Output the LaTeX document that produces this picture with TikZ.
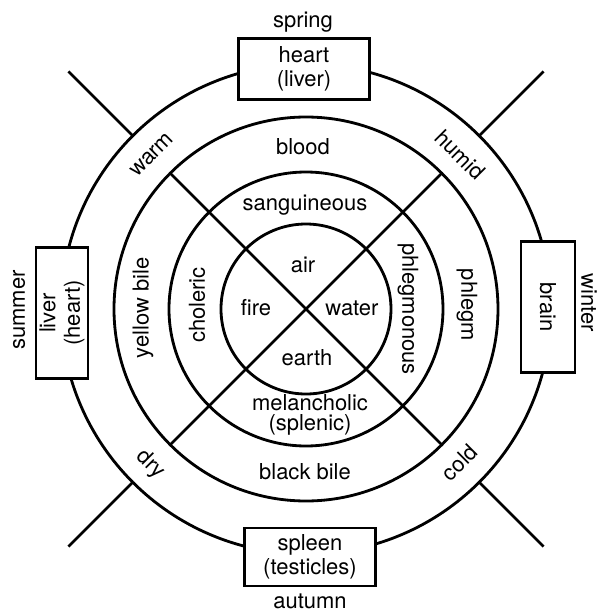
\documentclass[tikz,border=0pt]{standalone}
\usepackage{fontspec}
\setmainfont{TeX Gyre Heros}

\begin{document}
\begin{tikzpicture}[x=0.02cm, y=0.02cm, line width=1.6pt,
  every node/.style={font=\fontsize{12.5}{14}\selectfont, align=center, inner sep=0pt},
  organ/.style={draw, fill=white, line width=1.3pt, minimum width=2.62cm}]
  \def\rA{85}
  \def\rB{137}
  \def\rC{192}
  \def\rD{245}
  \def\rE{336}

  \useasboundingbox (-306,-301) rectangle (292,309);

  % rings and cross
  \draw (0,0) circle (\rA);
  \draw (0,0) circle (\rB);
  \draw (0,0) circle (\rC);
  \draw (0,0) circle (\rD);
  \draw (135:\rC) -- (315:\rC);
  \draw (45:\rC)  -- (225:\rC);

  % outer stubs
  \draw (45:\rD)  -- (45:\rE);
  \draw (135:\rD) -- (135:\rE);
  \draw (225:\rD) -- (225:\rE);
  \draw (315:\rD) -- (315:\rE);

  % organs and seasons
  \node[organ, minimum height=1.22cm]            (heart)  at (-2, 240)  {heart\\(liver)};
  \node[organ, rotate=90, minimum height=1.04cm] (liver)  at (-244, -4) {liver\\(heart)};
  \node[organ, rotate=-90, minimum height=1.08cm] (brain) at (242, 2)   {brain};
  \node[organ, minimum height=1.16cm]            (spleen) at (4, -248)  {spleen\\(testicles)};

  \node             (spring) at (-3, 287)  {spring};
  \node[rotate=90]  (summer) at (-287, -1) {summer};
  \node[rotate=-90] (winter) at (283, 6)   {winter};
  \node             (autumn) at (4, -292)  {autumn};

  % qualities
  \node[rotate=45]  (warm)  at (135:218) {warm};
  \node[rotate=-45] (humid) at (45:218)  {humid};
  \node[rotate=-45] (dry)   at (225:220) {dry};
  \node[rotate=45]  (cold)  at (315:217) {cold};

  % humours
  \node             (blood)  at (-3, 162)  {blood};
  \node[rotate=90]  (yellow) at (-163, 1)  {yellow bile};
  \node[rotate=-90] (phlegm) at (161, 4)   {phlegm};
  \node             (black)  at (-1, -163) {black bile};

  % temperaments
  \node             (sang) at (-1, 104) {sanguineous};
  \node[rotate=90]  (chol) at (-109, 4) {choleric};
  \node[rotate=-90] (phlm) at (102, 0)  {phlegmonous};
  \node[font=\fontsize{12.5}{11.5}\selectfont] (melan) at (4, -106) {melancholic\\(splenic)};

  % elements
  \node (air)   at (-3, 44)  {air};
  \node (fire)  at (-50, 1)  {fire};
  \node (water) at (46, 1)   {water};
  \node (earth) at (1, -49)  {earth};
\end{tikzpicture}
\end{document}
